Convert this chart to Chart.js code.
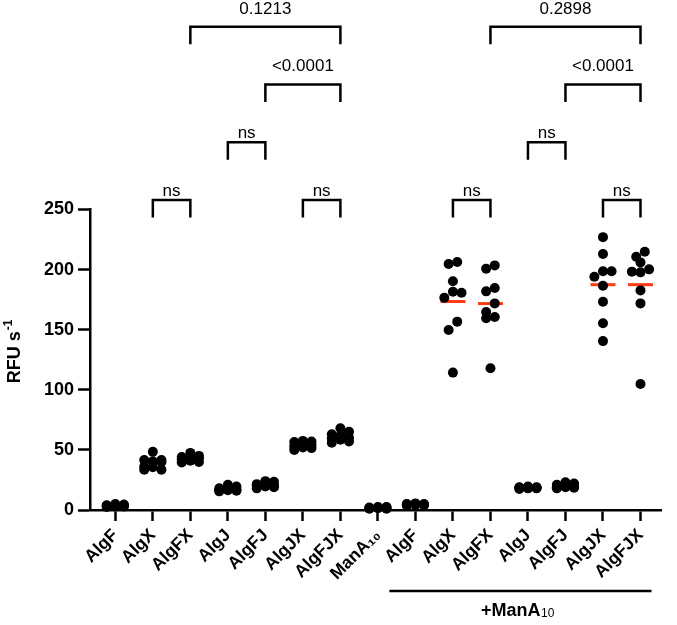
<!DOCTYPE html>
<html><head><meta charset="utf-8">
<script src="https://cdn.jsdelivr.net/npm/chart.js@4.4.0/dist/chart.umd.min.js"></script>
<style>html,body{margin:0;padding:0;background:#fff;} canvas{display:block;}</style>
</head><body>
<canvas id="c" width="677" height="625"></canvas>
<script>
// ---- data ----
const categories = ["AlgF","AlgX","AlgFX","AlgJ","AlgFJ","AlgJX","AlgFJX","ManA\u2081\u2080","AlgF","AlgX","AlgFX","AlgJ","AlgFJ","AlgJX","AlgFJX"];
const yTicks = [0, 50, 100, 150, 200, 250];
const vAlgF    = [2.5, 3, 3.5, 4, 4.5, 5, 3, 4, 3.5];
const vAlgX    = [48.5, 41.5, 40, 41.5, 40.5, 33.5, 35.5, 33.5, 36];
const vAlgFX   = [47.5, 44, 43, 45, 41, 40, 42, 39.5, 43];
const vAlgJ    = [21, 19.5, 17.5, 16.5, 16, 17, 15.5, 18, 16.5];
const vAlgFJ   = [23.5, 24, 21, 20, 19, 18, 20.5, 21.5, 19.5];
const vAlgJX   = [57.5, 56.5, 55, 54, 53, 52, 51.5, 50, 57];
const vAlgFJX  = [68, 65, 63, 62, 60, 58.5, 57, 56, 59.5];
const vManA    = [2, 1.5, 2.5, 1, 2, 1.5, 2, 2.5, 1];
const mAlgF    = [5.5, 5, 4.5, 4, 5, 4.5, 3.5, 4, 5];
const mAlgX    = [206.3, 204.7, 190.3, 181.6, 180.8, 176.6, 156.7, 149.8, 114.3];
const mAlgFX   = [203.5, 200.8, 184.7, 181.9, 171.9, 164.7, 160.6, 159.5, 117.9];
const mAlgJ    = [19.5, 19, 18.5, 18, 18.5, 19, 18, 17.5, 18.5];
const mAlgFJ   = [23, 22, 21, 20, 19.5, 18.5, 18, 19, 19];
const mAlgJX   = [227, 213, 198.7, 198.7, 194.1, 186.6, 173.3, 155.3, 140.5];
const mAlgFJX  = [214.9, 210.7, 206, 200.2, 198.3, 197.7, 182.7, 171.9, 104.8];
const groups = [vAlgF, vAlgX, vAlgFX, vAlgJ, vAlgFJ, vAlgJX, vAlgFJX, vManA, mAlgF, mAlgX, mAlgFX, mAlgJ, mAlgFJ, mAlgJX, mAlgFJX];
// [from index, to index, label, bracket height (y units)]
const brackets = [
  [1, 2, "ns", 258], [3, 4, "ns", 306], [5, 6, "ns", 258], [4, 6, "<0.0001", 354], [2, 6, "0.1213", 402],
  [9, 10, "ns", 258], [11, 12, "ns", 306], [13, 14, "ns", 258], [12, 14, "<0.0001", 354], [10, 14, "0.2898", 402]
];
const groupLabelMain = "+ManA";
const groupLabelSub = "10";
const yTitleMain = "RFU s";
const yTitleSup = "-1";

// ---- chart ----
const FONT = '"Liberation Sans", Arial, Helvetica, sans-serif';
Chart.defaults.color = '#000';
Chart.defaults.font.family = FONT;

const means = groups.map((g, i) => ({x: i, y: g.reduce((a, b) => a + b, 0) / g.length}));
const initialPts = [];
groups.forEach((g, i) => g.forEach(v => initialPts.push({x: i, y: v})));

const extras = {
  id: 'extras',
  afterDatasetsDraw(chart) {
    const {ctx, scales: {x, y}, chartArea} = chart;
    ctx.save();
    // significance brackets
    ctx.strokeStyle = '#000'; ctx.fillStyle = '#000';
    ctx.lineWidth = 2.5; ctx.lineJoin = 'miter'; ctx.lineCap = 'butt';
    ctx.font = '17px ' + FONT; ctx.textAlign = 'center'; ctx.textBaseline = 'alphabetic';
    brackets.forEach(([a, b, label, h]) => {
      const x1 = x.getPixelForValue(a), x2 = x.getPixelForValue(b), yy = y.getPixelForValue(h);
      const leg = yy + 17.5;
      ctx.beginPath(); ctx.moveTo(x1, leg); ctx.lineTo(x1, yy); ctx.lineTo(x2, yy); ctx.lineTo(x2, leg); ctx.stroke();
      ctx.fillText(label, (x1 + x2) / 2, yy - (label === 'ns' ? 4 : 13));
    });
    // group underline and label
    const xs = x.getPixelForValue(8) - 26, xe = x.getPixelForValue(14) + 11;
    const ly = chartArea.bottom + 81;
    ctx.beginPath(); ctx.moveTo(xs, ly); ctx.lineTo(xe, ly); ctx.stroke();
    ctx.textAlign = 'left';
    const fMain = 'bold 18px ' + FONT, fSub = '12px ' + FONT;
    ctx.font = fMain; const w1 = ctx.measureText(groupLabelMain).width;
    ctx.font = fSub; const w2 = ctx.measureText(groupLabelSub).width;
    const tx = (xs + xe) / 2 - (w1 + w2) / 2 - 3, ty = chartArea.bottom + 106;
    ctx.font = fMain; ctx.fillText(groupLabelMain, tx, ty);
    ctx.font = fSub; ctx.fillText(groupLabelSub, tx + w1 + 0.5, ty + 1);
    // y title
    ctx.save();
    ctx.translate(20, 352); ctx.rotate(-Math.PI / 2);
    const tMain = 'bold 18px ' + FONT, tSup = 'bold 12px ' + FONT;
    ctx.font = tMain; const a1 = ctx.measureText(yTitleMain).width;
    ctx.font = tSup; const a2 = ctx.measureText(yTitleSup).width;
    const sx = -(a1 + a2) / 2;
    ctx.font = tMain; ctx.fillText(yTitleMain, sx, 0);
    ctx.font = tSup; ctx.fillText(yTitleSup, sx + a1 + 1, -8);
    ctx.restore();
    ctx.restore();
  }
};

const chart = new Chart(document.getElementById('c'), {
  type: 'scatter',
  data: {
    datasets: [
      {data: initialPts, pointRadius: 5, pointHoverRadius: 5, pointBackgroundColor: '#000', pointBorderWidth: 0, clip: false},
      {data: means, pointStyle: 'line', pointRadius: 12.5, pointHoverRadius: 12.5, pointBorderColor: '#ff3b16', pointBorderWidth: 3, clip: false}
    ]
  },
  options: {
    responsive: false, animation: false, events: [],
    layout: {padding: {top: 209.5, right: 7, left: 0, bottom: 0}},
    plugins: {legend: {display: false}, tooltip: {enabled: false}},
    scales: {
      x: {
        type: 'linear', min: -0.675, max: 14.56,
        afterBuildTicks: a => { a.ticks = categories.map((_, i) => ({value: i})); },
        afterFit: a => { a.height = 115; },
        border: {display: true, color: '#000', width: 2.5},
        grid: {display: true, drawOnChartArea: false, drawTicks: true, tickLength: 11, tickColor: '#000', tickWidth: 2.5},
        ticks: {autoSkip: false, minRotation: 45, maxRotation: 45, padding: 4, color: '#000',
                font: {family: FONT, size: 17.5, weight: 'bold'},
                callback: (v, i) => categories[i]}
      },
      y: {
        type: 'linear', min: 0, max: 250,
        afterBuildTicks: a => { a.ticks = yTicks.map(v => ({value: v})); },
        afterFit: a => { a.width = 90; },
        border: {display: true, color: '#000', width: 2.5},
        grid: {display: true, drawOnChartArea: false, drawTicks: true, tickLength: 12, tickColor: '#000', tickWidth: 2.5},
        ticks: {padding: 4, color: '#000', font: {family: FONT, size: 18, weight: 'bold'}}
      }
    }
  },
  plugins: [extras]
});

// horizontal spreading of overlapping dots (rows of up to three)
(function swarm() {
  const xs = chart.scales.x, ys = chart.scales.y;
  const unit = xs.getPixelForValue(1) - xs.getPixelForValue(0);
  const D = 9.5, h = 4.3;
  const pts = [];
  groups.forEach((vals, gi) => {
    const order = vals.map((v, i) => i).sort((a, b) => vals[b] - vals[a]);
    let k = 0;
    while (k < order.length) {
      const row = [order[k]];
      const y0 = ys.getPixelForValue(vals[order[k]]);
      let j = k + 1;
      while (j < order.length && row.length < 3 && Math.abs(ys.getPixelForValue(vals[order[j]]) - y0) < D) { row.push(order[j]); j++; }
      const offs = row.length === 1 ? [0] : row.length === 2 ? [h, -h] : [0, 2 * h, -2 * h];
      row.forEach((idx, r) => pts.push({x: gi + offs[r] / unit, y: vals[idx]}));
      k = j;
    }
  });
  chart.data.datasets[0].data = pts;
  chart.update('none');
})();
</script>
</body></html>
